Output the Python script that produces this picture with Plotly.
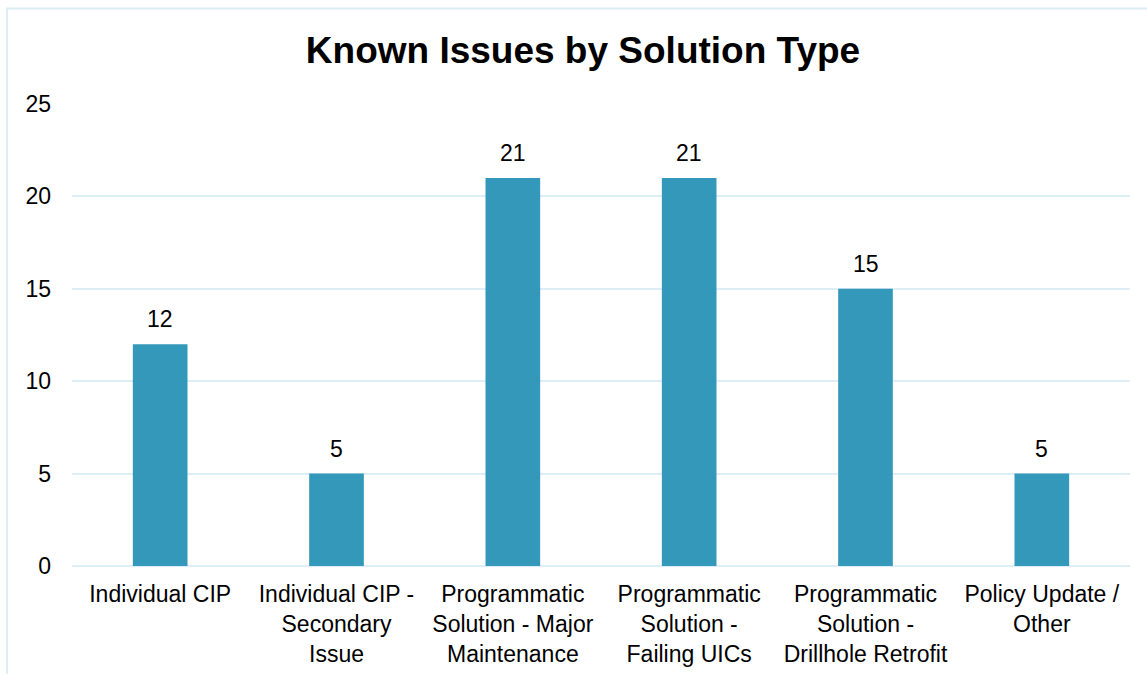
import plotly.graph_objects as go

categories = [
    "Individual CIP",
    "Individual CIP -<br>Secondary<br>Issue",
    "Programmatic<br>Solution - Major<br>Maintenance",
    "Programmatic<br>Solution -<br>Failing UICs",
    "Programmatic<br>Solution -<br>Drillhole Retrofit",
    "Policy Update /<br>Other",
]
counts = [12, 5, 21, 21, 15, 5]
y_ticks = [0, 5, 10, 15, 20, 25]

BAR = "#3498BA"
GRID = "#DDEEF7"
FONT = "Liberation Sans, Arial, sans-serif"
FS = 23

W, H = 1147, 674
L, R, T, B = 72, 17, 104, 108
pw, ph = W - L - R, H - T - B

fig = go.Figure(
    go.Bar(
        x=categories,
        y=counts,
        marker=dict(color=BAR, line=dict(width=0)),
        width=0.31,
        hoverinfo="skip",
    )
)

# value labels above each bar
for c, v in zip(categories, counts):
    fig.add_annotation(
        x=c, y=v, text=str(v), showarrow=False,
        yanchor="bottom", yshift=10,
        font=dict(family=FONT, size=FS, color="#000000"),
    )

# light frame around the chart
def px_x(p):
    return (p - L) / pw

def px_y(p):
    return (H - B - p) / ph

fig.add_shape(
    type="rect", xref="paper", yref="paper",
    x0=px_x(7), x1=px_x(1160), y0=px_y(690), y1=px_y(8.5),
    line=dict(color=GRID, width=2), fillcolor="rgba(0,0,0,0)",
    layer="below",
)

fig.update_layout(
    width=W, height=H,
    margin=dict(l=L, r=R, t=T, b=B, pad=0, autoexpand=False),
    paper_bgcolor="white", plot_bgcolor="white",
    showlegend=False,
    title=dict(
        text="<b>Known Issues by Solution Type</b>",
        x=583 / W, xanchor="center", xref="container",
        y=1 - 50 / H, yanchor="middle", yref="container",
        font=dict(family=FONT, size=37, color="#000000"),
    ),
    font=dict(family=FONT, size=FS, color="#000000"),
    bargap=0.69,
    xaxis=dict(
        showgrid=False, showline=False, zeroline=False, automargin=False,
        ticks="", ticklabelstandoff=12,
        tickfont=dict(family=FONT, size=FS, color="#000000"),
    ),
    yaxis=dict(
        range=[0, 25], tickvals=y_ticks, automargin=False,
        showgrid=True, gridcolor=GRID, gridwidth=2,
        zeroline=True, zerolinecolor=GRID, zerolinewidth=2,
        showline=False, ticks="", ticklabelstandoff=20,
        tickfont=dict(family=FONT, size=FS, color="#000000"),
    ),
)

fig.write_html("out.html")
